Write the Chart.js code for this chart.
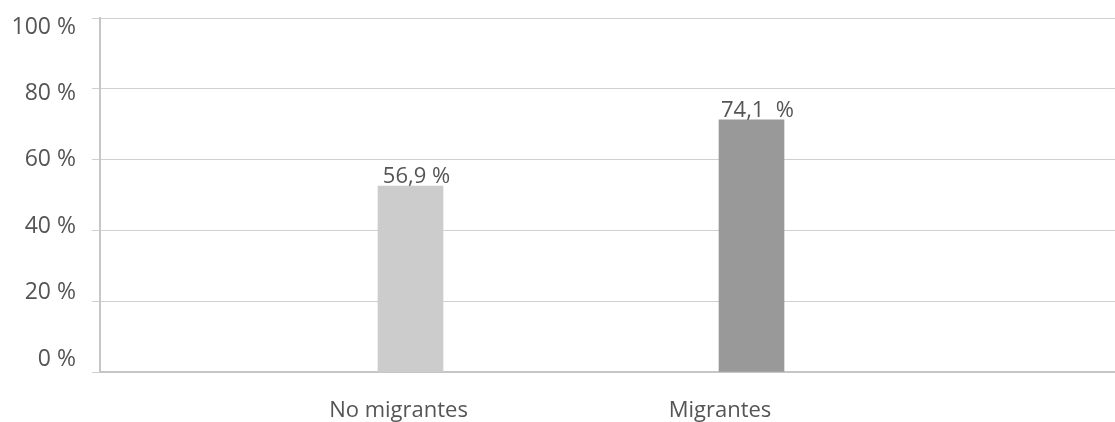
<!DOCTYPE html>
<html>
<head>
<meta charset="utf-8">
<script src="https://cdn.jsdelivr.net/npm/chart.js@4"></script>
<style>
  html, body { margin: 0; padding: 0; background: #ffffff; }
  #wrap { width: 1115px; height: 422px; position: relative; }
</style>
</head>
<body>
<div id="wrap"><canvas id="c"></canvas></div>
<script>
// ---- data ----
const categories = ['No migrantes', 'Migrantes'];
const barValues = [52.5, 71.2];            // bar heights as drawn (percent)
const valueLabels = ['56,9 %', '74,1  %'];  // labels printed above bars
const barColors = ['#cccccc', '#999999'];
const yTicks = [0, 20, 40, 60, 80, 100];

const FONT = '"Open Sans", "Noto Sans", sans-serif';
const TEXT = '#555555';

function noPad(s) { s.paddingTop = 0; s.paddingBottom = 0; s.paddingLeft = 0; s.paddingRight = 0; }

const valueLabelPlugin = {
  id: 'valueLabels',
  afterDatasetsDraw(chart) {
    const ctx = chart.ctx;
    const meta = chart.getDatasetMeta(0);
    ctx.save();
    ctx.font = '22px ' + FONT;
    ctx.fillStyle = TEXT;
    ctx.textAlign = 'center';
    ctx.textBaseline = 'alphabetic';
    meta.data.forEach((bar, i) => {
      ctx.fillText(valueLabels[i], bar.x + 6, bar.y - 3);
    });
    ctx.restore();
  }
};

new Chart(document.getElementById('c'), {
  type: 'bar',
  data: {
    datasets: [{
      data: categories.map((c, i) => ({ x: i + 1, y: barValues[i] })),
      backgroundColor: barColors,
      borderWidth: 0,
      barThickness: 65
    }]
  },
  options: {
    responsive: true,
    maintainAspectRatio: false,
    animation: false,
    layout: { padding: { top: 18, right: 0, bottom: 0, left: 0 } },
    plugins: { legend: { display: false }, tooltip: { enabled: false } },
    scales: {
      x: {
        type: 'linear',
        position: 'bottom',
        offset: false,
        weight: 0,
        min: 0.0894,
        max: 3.0660,
        grid: { display: false, drawTicks: false, offset: false },
        border: { display: true, color: '#c6c6c6', width: 2 },
        ticks: { display: false },
        afterFit(s) { s.height = 0; noPad(s); }
      },
      xLab: {
        type: 'linear',
        position: 'bottom',
        offset: false,
        weight: 1,
        min: 0.0715,
        max: 3.2286,
        grid: { display: false, drawTicks: false, offset: false },
        border: { display: false },
        ticks: {
          stepSize: 1,
          includeBounds: false,
          padding: 26,
          maxRotation: 0,
          autoSkip: false,
          color: TEXT,
          font: { family: FONT, size: 22 },
          callback: (v) => (Number.isInteger(v) && v >= 1 && v <= categories.length) ? categories[v - 1] : ''
        },
        afterFit(s) { s.height = 50; noPad(s); }
      },
      y: {
        type: 'linear',
        position: 'left',
        weight: 0,
        min: 0,
        max: 100,
        grid: { color: '#d0d0d0', lineWidth: 1, tickLength: 8, drawTicks: true },
        border: { display: true, color: '#c6c6c6', width: 2 },
        ticks: { display: false, stepSize: 20 },
        afterFit(s) { s.width = 8; noPad(s); }
      },
      yLab: {
        type: 'linear',
        position: 'left',
        weight: 1,
        min: -3.92,
        max: 102.71,
        grid: { display: false, drawTicks: false },
        border: { display: false },
        ticks: {
          stepSize: 20,
          includeBounds: false,
          padding: 16,
          color: TEXT,
          font: { family: FONT, size: 23 },
          callback: (v) => yTicks.includes(v) ? v + ' %' : ''
        },
        afterFit(s) { s.width = 92; noPad(s); }
      }
    }
  },
  plugins: [valueLabelPlugin]
});
</script>
</body>
</html>
